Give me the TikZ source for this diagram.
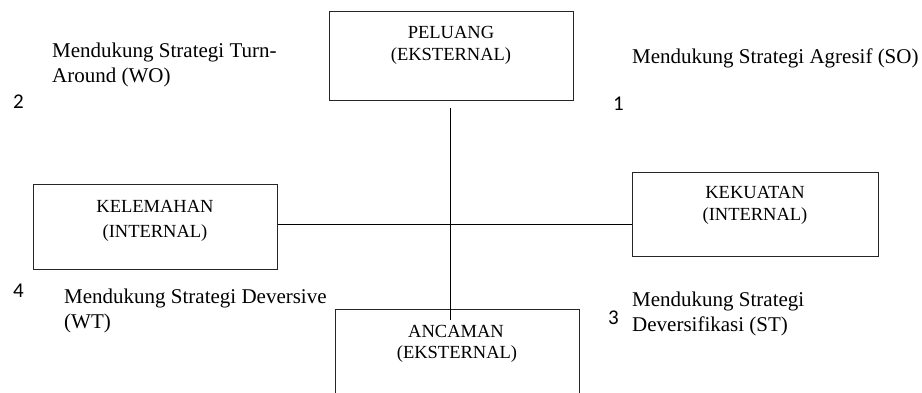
\documentclass[tikz,border=0pt]{standalone}
\usepackage{fontspec}
\setmainfont{Liberation Serif}
\newfontfamily\numfont{Carlito}
\begin{document}
\begin{tikzpicture}[x=1pt,y=-1pt,
  box/.style={draw=black!85, line width=1pt, rectangle, inner sep=0pt},
  boxtext/.style={anchor=base, inner sep=0pt, font=\fontsize{18.5}{22}\selectfont},
  strat/.style={anchor=base west, inner sep=0pt, font=\fontsize{21}{25}\selectfont},
  num/.style={anchor=base west, inner sep=0pt, font=\numfont\fontsize{21}{24}\selectfont},
  conn/.style={draw=black, line width=1pt}]
\useasboundingbox (0,0) rectangle (922,392);
\clip (0,0) rectangle (922,392);
% boxes
\node[box, minimum width=244, minimum height=89] (pel) at (451,55.5) {};
\node[box, minimum width=244, minimum height=85] (kel) at (155,226.5) {};
\node[box, minimum width=246, minimum height=84] (kek) at (755,214) {};
\node[box, minimum width=244, minimum height=92] (anc) at (457,355) {};
% box texts
\node[boxtext] (pelt1) at (451,38) {PELUANG};
\node[boxtext] (pelt2) at (451,60) {(EKSTERNAL)};
\node[boxtext] (kelt1) at (155,212) {KELEMAHAN};
\node[boxtext] (kelt2) at (155,237) {(INTERNAL)};
\node[boxtext] (kekt1) at (755,198) {KEKUATAN};
\node[boxtext] (kekt2) at (755,220) {(INTERNAL)};
\node[boxtext] (anct1) at (456,337) {ANCAMAN};
\node[boxtext] (anct2) at (457,358) {(EKSTERNAL)};
% connectors
\coordinate (vtop) at (450,108);
\coordinate (vbot) at (450,320);
\coordinate (hl) at (0,224);
\draw[conn] (vtop) -- (vbot);
\draw[conn] (kel.east |- hl) -- (kek.west |- hl);
% strategy texts
\node[strat] (wo1) at (52,57) {Mendukung Strategi Turn-};
\node[strat] (wo2) at (52,82.5) {Around (WO)};
\node[strat] (so1) at (632,63) {Mendukung Strategi Agresif (SO)};
\node[strat] (wt1) at (64,303) {Mendukung Strategi Deversive};
\node[strat] (wt2) at (64,328) {(WT)};
\node[strat] (st1) at (632,306) {Mendukung Strategi};
\node[strat] (st2) at (632,331) {Deversifikasi (ST)};
% numbers
\node[num] (n2) at (13,108) {2};
\node[num] (n1) at (613,110) {1};
\node[num] (n4) at (13,297) {4};
\node[num] (n3) at (608,324) {3};
\end{tikzpicture}
\end{document}
